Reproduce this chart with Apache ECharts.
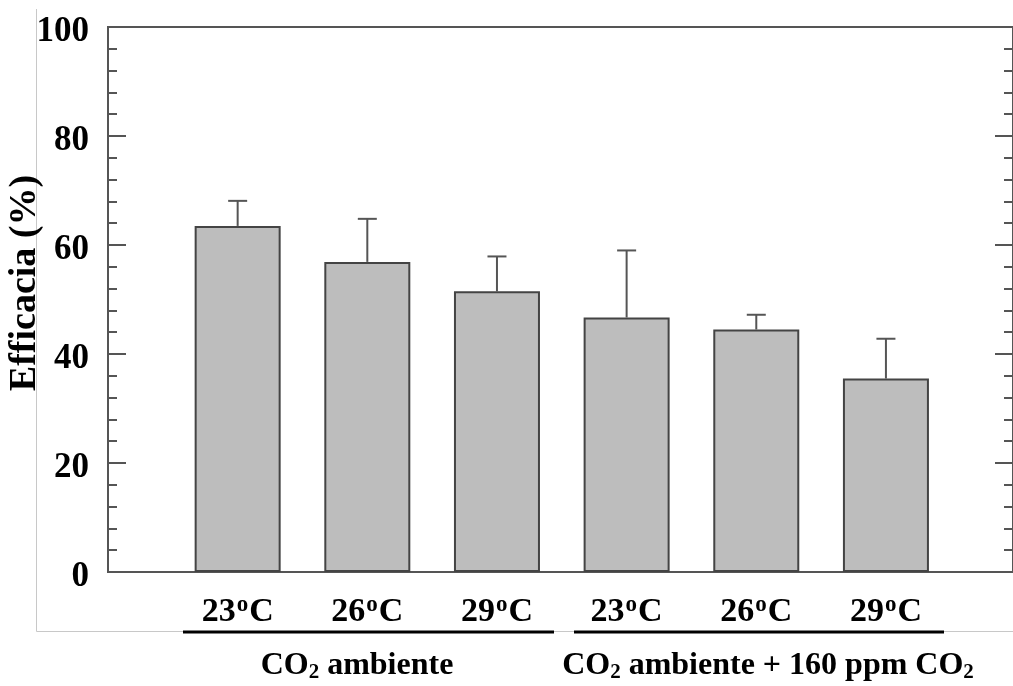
<!DOCTYPE html>
<html>
<head>
<meta charset="utf-8">
<script src="https://cdn.jsdelivr.net/npm/echarts@6/dist/echarts.min.js"></script>
<style>
html,body{margin:0;padding:0;background:#fff;}
#chart{width:1013px;height:686px;}
</style>
</head>
<body>
<div id="chart"></div>
<script>
// ---- data ----
var tempLabels = ['23', '26', '29', '23', '26', '29'];
var efficacy = [63.5, 56.9, 51.5, 46.7, 44.5, 35.5];
var errors = [4.6, 7.9, 6.4, 12.3, 2.7, 7.3];
var yTicks = [0, 20, 40, 60, 80, 100];
var yTitle = 'Efficacia (%)';
var groupLabels = ['{t|CO}{b|2}{t| ambiente}', '{t|CO}{b|2}{t| ambiente + 160 ppm CO}{b|2}'];

var FONT = '"Liberation Serif", "Times New Roman", serif';
var chart = echarts.init(document.getElementById('chart'), null, {renderer: 'canvas'});

var barData = efficacy.map(function (v, i) { return [i + 1, v]; });
var errData = efficacy.map(function (v, i) { return [i + 1, v, v + errors[i]]; });

var groupRich = {
  t: {fontFamily: FONT, fontWeight: 'bold', fontSize: 32, fill: '#000', lineHeight: 34},
  b: {fontFamily: FONT, fontWeight: 'bold', fontSize: 21, fill: '#000', verticalAlign: 'bottom', lineHeight: 34, padding: [12, 0, 0, 0]}
};

var option = {
  backgroundColor: '#fff',
  animation: false,
  grid: {left: 108, top: 27, width: 905, height: 545, show: true, borderColor: '#555', borderWidth: 2, outerBoundsMode: 'none', containLabel: false},
  xAxis: [{
    type: 'value', min: 0, max: 6.98, interval: 1,
    axisLine: {show: true, lineStyle: {color: '#555', width: 2}},
    axisTick: {show: false},
    splitLine: {show: false},
    axisLabel: {
      margin: 22,
      showMinLabel: false, showMaxLabel: false,
      formatter: function (v) {
        var i = Math.round(v) - 1;
        if (Math.abs(v - Math.round(v)) > 1e-6 || i < 0 || i >= tempLabels.length) return '';
        return '{n|' + tempLabels[i] + '}{s|o}{n|C}';
      },
      rich: {
        n: {fontFamily: FONT, fontWeight: 'bold', fontSize: 34, color: '#000', lineHeight: 36},
        s: {fontFamily: FONT, fontWeight: 'bold', fontSize: 23, color: '#000', verticalAlign: 'top', lineHeight: 36, padding: [0, 1, 14, 1]}
      }
    }
  }],
  yAxis: [{
    type: 'value', min: 0, max: 100, interval: 20, position: 'left',
    axisLine: {show: true, lineStyle: {color: '#555', width: 2}},
    axisTick: {show: true, inside: true, length: 18, lineStyle: {color: '#555', width: 2}},
    minorTick: {show: true, splitNumber: 5, length: 9, lineStyle: {color: '#555', width: 2}},
    splitLine: {show: false},
    axisLabel: {
      margin: 19,
      formatter: function (v) { return '{v|' + v + '}'; },
      rich: {v: {fontFamily: FONT, fontWeight: 'bold', fontSize: 35, color: '#000', lineHeight: 36, padding: [9, 0, 0, 0]}}
    }
  }, {
    type: 'value', min: 0, max: 100, interval: 20, position: 'right',
    axisLine: {show: true, lineStyle: {color: '#555', width: 2}},
    axisTick: {show: true, inside: true, length: 18, lineStyle: {color: '#555', width: 2}},
    minorTick: {show: true, splitNumber: 5, length: 9, lineStyle: {color: '#555', width: 2}},
    splitLine: {show: false},
    axisLabel: {show: false}
  }],
  series: [{
    type: 'bar',
    data: barData,
    barWidth: 86,
    itemStyle: {color: '#bdbdbd', borderColor: '#444', borderWidth: 2},
    z: 2
  }, {
    type: 'custom',
    data: errData,
    z: 1,
    renderItem: function (params, api) {
      var x = api.value(0);
      var lo = api.coord([x, api.value(1)]);
      var hi = api.coord([x, api.value(2)]);
      var cw = 9.5;
      return {
        type: 'group',
        children: [
          {type: 'line', shape: {x1: lo[0], y1: lo[1], x2: hi[0], y2: hi[1]}, style: {stroke: '#555', lineWidth: 2}},
          {type: 'line', shape: {x1: hi[0] - cw, y1: hi[1], x2: hi[0] + cw, y2: hi[1]}, style: {stroke: '#555', lineWidth: 2}}
        ]
      };
    }
  }],
  graphic: [
    // light page frame
    {type: 'line', shape: {x1: 36.5, y1: 9, x2: 36.5, y2: 631.5}, style: {stroke: '#c8c8c8', lineWidth: 1}, silent: true},
    {type: 'line', shape: {x1: 36.5, y1: 631.5, x2: 1013, y2: 631.5}, style: {stroke: '#c8c8c8', lineWidth: 1}, silent: true},
    // y axis title
    {type: 'text', x: 25, y: 283, rotation: Math.PI / 2, z: 10, style: {
      text: yTitle, align: 'center', verticalAlign: 'middle',
      font: 'bold 38px ' + FONT, fill: '#000'
    }},
    // group underlines
    {type: 'line', shape: {x1: 183, y1: 632, x2: 554, y2: 632}, style: {stroke: '#000', lineWidth: 3}, z: 10},
    {type: 'line', shape: {x1: 574, y1: 632, x2: 944, y2: 632}, style: {stroke: '#000', lineWidth: 3}, z: 10},
    // group labels
    {type: 'text', x: 357, y: 666, z: 10, style: {text: groupLabels[0], align: 'center', verticalAlign: 'middle', rich: groupRich}},
    {type: 'text', x: 768, y: 666, z: 10, style: {text: groupLabels[1], align: 'center', verticalAlign: 'middle', rich: groupRich}}
  ]
};
chart.setOption(option);
</script>
</body>
</html>
